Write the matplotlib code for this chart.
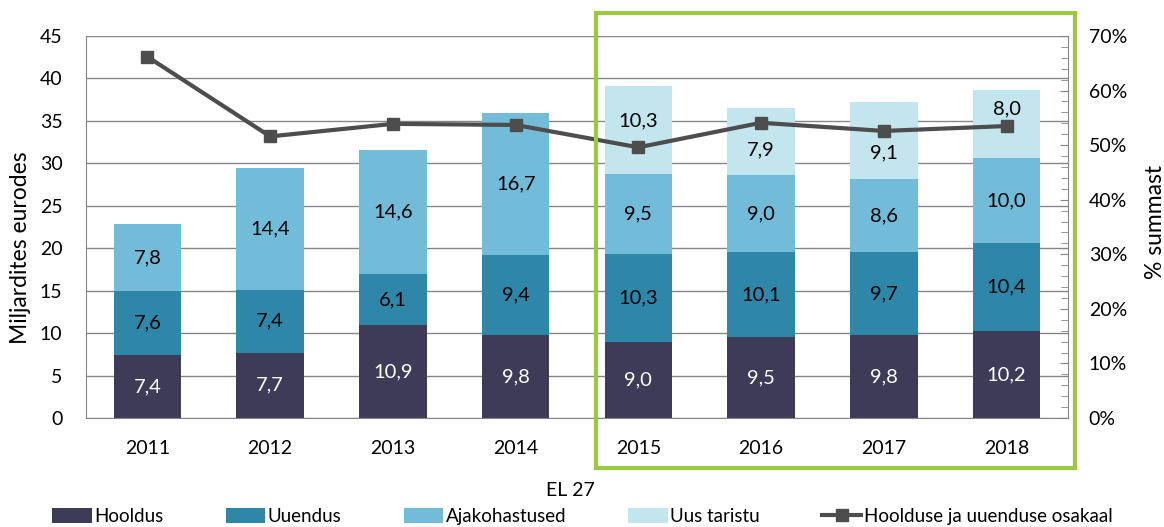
import numpy as np
import matplotlib.pyplot as plt
from matplotlib.patches import Rectangle, Patch
from matplotlib.lines import Line2D
from matplotlib.ticker import MultipleLocator, PercentFormatter

plt.rcParams['font.family'] = ['Lato', 'DejaVu Sans']

years = ['2011', '2012', '2013', '2014', '2015', '2016', '2017', '2018']
hooldus = [7.4, 7.7, 10.9, 9.8, 9.0, 9.5, 9.8, 10.2]
uuendus = [7.6, 7.4, 6.1, 9.4, 10.3, 10.1, 9.7, 10.4]
ajakohastused = [7.8, 14.4, 14.6, 16.7, 9.5, 9.0, 8.6, 10.0]
uus_taristu = [0, 0, 0, 0, 10.3, 7.9, 9.1, 8.0]
osakaal = [66.2, 51.6, 53.9, 53.7, 49.6, 54.1, 52.6, 53.5]

series = [
    ('Hooldus', hooldus, '#3d3b58', 'white'),
    ('Uuendus', uuendus, '#2e86a8', 'black'),
    ('Ajakohastused', ajakohastused, '#72bcda', 'black'),
    ('Uus taristu', uus_taristu, '#c3e5ee', 'black'),
]
# labels of the top segment were moved off the line in the original
top_label_shift = [0, 0, 0, 0, 1.0, -0.95, -1.4, 1.8]

fig = plt.figure(figsize=(11.64, 5.27), dpi=100)
ax = fig.add_axes([0.0739, 0.2068, 0.8436, 0.7249])
x = np.arange(len(years))
bottom = np.zeros(len(years))
for k, (name, vals, col, tcol) in enumerate(series):
    vals = np.array(vals)
    ax.bar(x, vals, 0.55, bottom=bottom, color=col, zorder=2)
    for i, (xi, b, v) in enumerate(zip(x, bottom, vals)):
        if v > 0:
            yy = b + v / 2
            if k == len(series) - 1:
                yy += top_label_shift[i]
            ax.text(xi, yy, f"{v:.1f}".replace('.', ','), ha='center', va='center',
                    fontsize=14.5, color=tcol, zorder=6)
    bottom += vals

ax.set_xlim(-0.5, len(years) - 0.5)
ax.set_ylim(0, 45)
ax.yaxis.set_major_locator(MultipleLocator(5))
ax.grid(axis='y', color='#868686', lw=1, zorder=0)
ax.set_xticks(x)
ax.set_xticklabels(years)
ax.tick_params(axis='both', length=0, labelsize=14)
ax.tick_params(axis='x', pad=16)
ax.tick_params(axis='y', pad=17)
for s in ['top', 'right']:
    ax.spines[s].set_visible(False)
for s in ['left', 'bottom']:
    ax.spines[s].set_color('#868686')
ax.set_ylabel('Miljardites eurodes', fontsize=16.5)
ax.yaxis.set_label_coords(-0.056, 0.445)

ax2 = ax.twinx()
ax2.plot(x, np.array(osakaal) / 100, color='#4d4d4d', lw=3, marker='s', ms=8, zorder=5)
ax2.set_ylim(0, 0.7)
ax2.yaxis.set_major_locator(MultipleLocator(0.1))
ax2.yaxis.set_minor_locator(MultipleLocator(0.02))
ax2.yaxis.set_major_formatter(PercentFormatter(1.0, decimals=0))
ax2.tick_params(axis='y', which='major', direction='in', length=6, color='#868686', labelsize=14, pad=15)
ax2.tick_params(axis='y', which='minor', direction='in', length=5, color='#868686')
for s in ['top', 'left', 'bottom']:
    ax2.spines[s].set_visible(False)
ax2.spines['right'].set_color('#868686')
ax2.set_ylabel('% summast', fontsize=16.5)
ax2.yaxis.set_label_coords(1.078, 0.513)

fig.patches.append(Rectangle((0.512, 0.112), 0.4115, 0.863, transform=fig.transFigure,
                             fill=False, edgecolor='#9bc83c', lw=3))

fig.text(0.49, 0.07, 'EL 27', ha='center', va='center', fontsize=14)

handles = [Patch(facecolor=c, edgecolor='none') for _, _, c, _ in series]
handles.append(Line2D([], [], color='#4d4d4d', lw=3, marker='s', ms=8))
labels = [n for n, _, _, _ in series] + ['Hoolduse ja uuenduse osakaal']
fig.legend(handles, labels, loc='center left', bbox_to_anchor=(0.045, 0.02), ncol=5,
           frameon=False, fontsize=13.5, columnspacing=3.3, handlelength=2.1,
           handletextpad=0.15, handleheight=0.9, borderpad=0, borderaxespad=0)

fig.savefig('out.png', dpi=100)
